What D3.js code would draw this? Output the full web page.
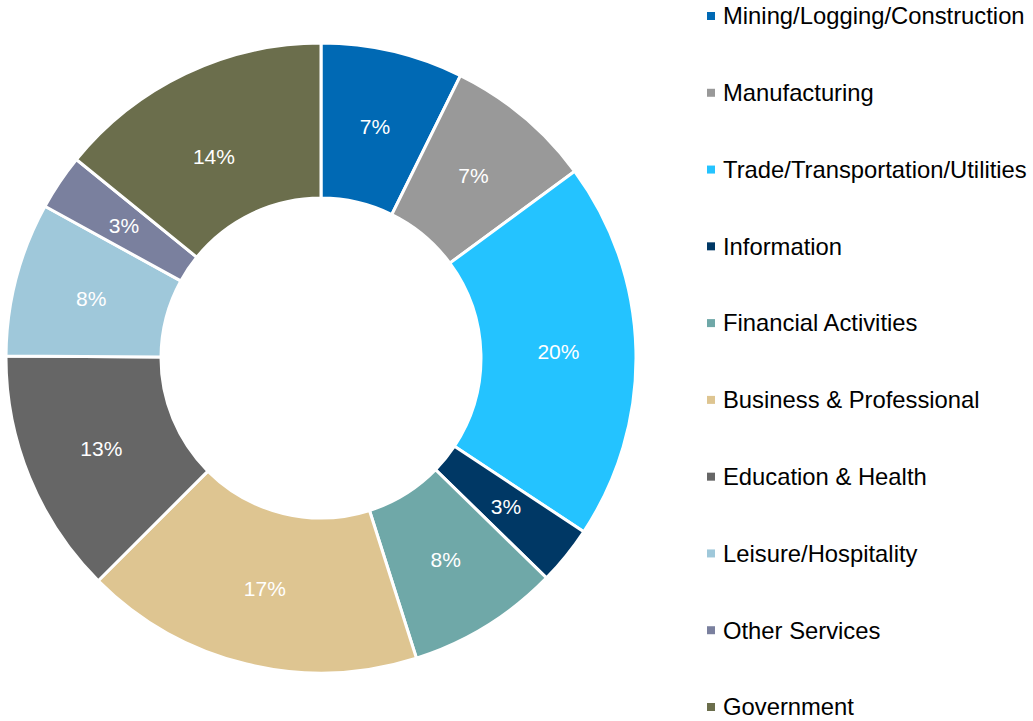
<!DOCTYPE html>
<html lang="en">
  <head>
    <meta charset="utf-8" />
    <title>Employment by Sector</title>
    <script src="https://d3js.org/d3.v7.min.js"></script>
    <style>
      body {
        margin: 0;
        background: #fff;
        font-family: Arial, "Liberation Sans", sans-serif;
      }
    </style>
  </head>
  <body>
    <div id="chart"></div>
    <script>
      // data
      const sectors = [
        "Mining/Logging/Construction",
        "Manufacturing",
        "Trade/Transportation/Utilities",
        "Information",
        "Financial Activities",
        "Business & Professional",
        "Education & Health",
        "Leisure/Hospitality",
        "Other Services",
        "Government",
      ];
      const shares = [7.3, 7.6, 19.4, 3.0, 7.8, 17.4, 12.6, 7.9, 2.85, 14.15];
      const labels = ["7%", "7%", "20%", "3%", "8%", "17%", "13%", "8%", "3%", "14%"];
      const colors = [
        "#0069b4", "#999999", "#24c3ff", "#003865", "#6fa8a8",
        "#dec591", "#666666", "#9fc8da", "#7a809e", "#6b6e4c",
      ];

      const width = 1033;
      const height = 721;
      const cx = 321;
      const cy = 358;
      const outer = 315;
      const inner = 160;

      const svg = d3
        .select("#chart")
        .append("svg")
        .attr("width", width)
        .attr("height", height);

      const color = d3.scaleOrdinal().domain(sectors).range(colors);

      const pie = d3.pie().sort(null).value((d, i) => shares[i]);
      const arc = d3.arc().innerRadius(inner).outerRadius(outer);

      const g = svg.append("g").attr("transform", `translate(${cx},${cy})`);
      const arcs = pie(sectors);

      g.selectAll("path")
        .data(arcs)
        .join("path")
        .attr("d", arc)
        .attr("fill", (d) => color(d.data))
        .attr("stroke", "#fff")
        .attr("stroke-width", 3);

      // excel nudges the last label a bit, pull it slightly back
      const labelArc = (d, i) => {
        const last = i === arcs.length - 1;
        const a = last
          ? d.startAngle + (d.endAngle - d.startAngle) * 0.45
          : (d.startAngle + d.endAngle) / 2;
        const r = last ? 228 : (inner + outer) / 2;
        return [Math.sin(a) * r, -Math.cos(a) * r];
      };

      g.selectAll("text")
        .data(arcs)
        .join("text")
        .attr("transform", (d, i) => `translate(${labelArc(d, i)})`)
        .attr("text-anchor", "middle")
        .attr("dy", "0.35em")
        .attr("fill", "#fff")
        .attr("font-size", 21)
        .text((d, i) => labels[i]);

      // legend
      const legendY = d3
        .scalePoint()
        .domain(sectors)
        .range([16, 707]);

      const legend = svg
        .append("g")
        .selectAll("g")
        .data(sectors)
        .join("g")
        .attr("transform", (d) => `translate(707,${legendY(d)})`);

      legend
        .append("rect")
        .attr("x", 0)
        .attr("y", -4)
        .attr("width", 8)
        .attr("height", 8)
        .attr("fill", (d) => color(d));

      legend
        .append("text")
        .attr("x", 16)
        .attr("dy", "0.35em")
        .attr("font-size", 23.8)
        .attr("fill", "#000")
        .text((d) => d);
    </script>
  </body>
</html>
